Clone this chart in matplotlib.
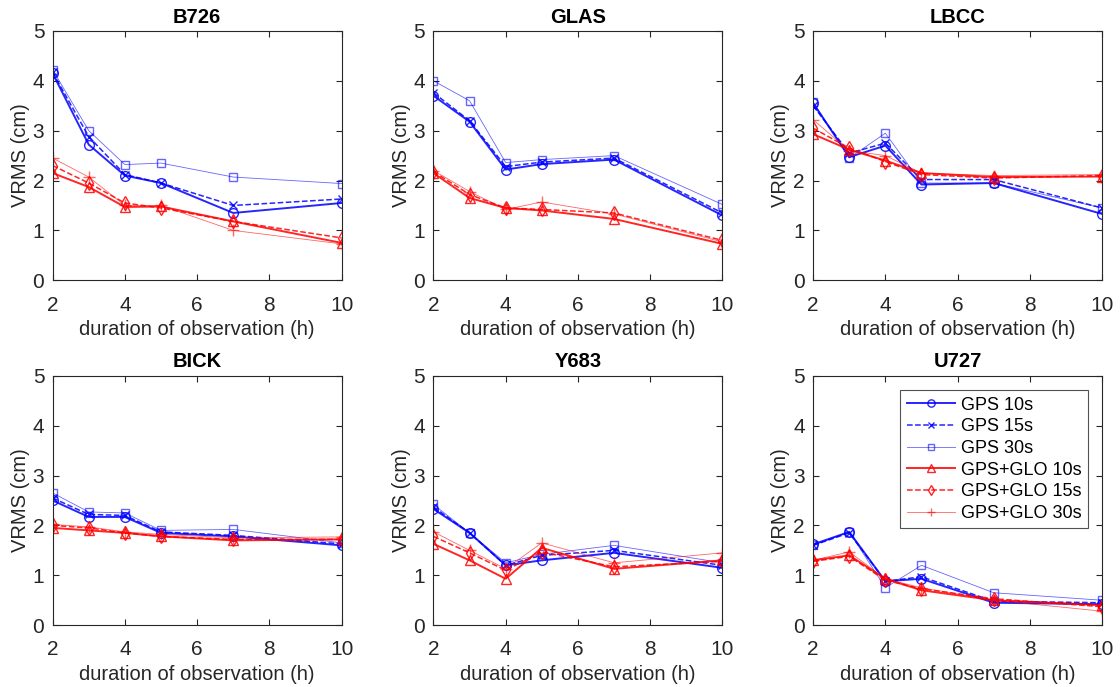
import numpy as np
import matplotlib
matplotlib.use('Agg')
from matplotlib import pyplot as plt
from matplotlib import rcParams

rcParams['font.family'] = ['Liberation Sans', 'DejaVu Sans']
rcParams['xtick.direction'] = 'in'
rcParams['ytick.direction'] = 'in'
rcParams['xtick.top'] = True
rcParams['ytick.right'] = True

#%% data
hours = [2, 3, 4, 5, 7, 10]
stations = ['B726', 'GLAS', 'LBCC', 'BICK', 'Y683', 'U727']
labels = ['GPS 10s', 'GPS 15s', 'GPS 30s', 'GPS+GLO 10s', 'GPS+GLO 15s', 'GPS+GLO 30s']

b726 = [[4.15, 2.72, 2.10, 1.95, 1.35, 1.55],
        [4.17, 2.88, 2.12, 1.95, 1.50, 1.63],
        [4.22, 3.00, 2.32, 2.35, 2.07, 1.94],
        [2.15, 1.87, 1.47, 1.48, 1.18, 0.75],
        [2.30, 1.95, 1.55, 1.45, 1.18, 0.85],
        [2.45, 2.07, 1.50, 1.50, 1.00, 0.73]]
glas = [[3.70, 3.18, 2.22, 2.33, 2.42, 1.30],
        [3.76, 3.20, 2.28, 2.37, 2.45, 1.35],
        [4.00, 3.60, 2.36, 2.42, 2.50, 1.52],
        [2.15, 1.65, 1.45, 1.40, 1.23, 0.73],
        [2.18, 1.72, 1.45, 1.42, 1.35, 0.80],
        [2.20, 1.78, 1.42, 1.57, 1.33, 0.77]]
lbcc = [[3.55, 2.47, 2.70, 1.92, 1.95, 1.33],
        [3.50, 2.55, 2.75, 2.02, 2.02, 1.45],
        [3.58, 2.45, 2.95, 1.95, 1.95, 1.45],
        [2.93, 2.62, 2.40, 2.15, 2.07, 2.08],
        [3.05, 2.65, 2.38, 2.12, 2.05, 2.10],
        [3.22, 2.60, 2.50, 2.15, 2.10, 2.12]]
bick = [[2.50, 2.17, 2.17, 1.85, 1.78, 1.60],
        [2.55, 2.22, 2.20, 1.87, 1.80, 1.63],
        [2.65, 2.27, 2.25, 1.90, 1.92, 1.65],
        [1.95, 1.90, 1.85, 1.78, 1.70, 1.72],
        [2.00, 1.95, 1.85, 1.78, 1.72, 1.72],
        [2.02, 1.97, 1.87, 1.82, 1.75, 1.77]]
y683 = [[2.33, 1.85, 1.20, 1.30, 1.45, 1.15],
        [2.37, 1.85, 1.20, 1.40, 1.50, 1.20],
        [2.42, 1.85, 1.25, 1.42, 1.60, 1.25],
        [1.63, 1.30, 0.93, 1.55, 1.13, 1.30],
        [1.78, 1.45, 1.10, 1.47, 1.17, 1.28],
        [1.87, 1.50, 1.13, 1.65, 1.25, 1.45]]
u727 = [[1.62, 1.87, 0.88, 0.93, 0.45, 0.42],
        [1.60, 1.85, 0.88, 0.97, 0.48, 0.45],
        [1.60, 1.87, 0.75, 1.20, 0.65, 0.50],
        [1.30, 1.40, 0.93, 0.70, 0.50, 0.40],
        [1.28, 1.38, 0.90, 0.73, 0.53, 0.37],
        [1.30, 1.47, 0.93, 0.75, 0.50, 0.28]]
allvals = [b726, glas, lbcc, bick, y683, u727]

#%% styles
styles = [dict(color='#0000ff', ls='-',  lw=1.4, marker='o', ms=7, alpha=0.85),
          dict(color='#0000ff', ls='--', lw=1.1, marker='x', ms=6, alpha=0.85),
          dict(color='#0000ff', ls='-',  lw=0.6, marker='s', ms=6, alpha=0.6),
          dict(color='#ff0000', ls='-',  lw=1.4, marker='^', ms=7, alpha=0.85),
          dict(color='#ff0000', ls='--', lw=1.1, marker='d', ms=7, alpha=0.85),
          dict(color='#ff0000', ls='-',  lw=0.6, marker='+', ms=8, alpha=0.6)]

fig = plt.figure(figsize=(11.2, 6.87), dpi=100)
lefts = [0.047, 0.387, 0.726]
bottoms = [0.592, 0.090]
w, h = 0.258, 0.363

for i, st in enumerate(stations):
    ax = fig.add_axes([lefts[i % 3], bottoms[i // 3], w, h])
    for j, lab in enumerate(labels):
        s = styles[j]
        ax.plot(hours, allvals[i][j], color=s['color'], linestyle=s['ls'], linewidth=s['lw'],
                marker=s['marker'], markersize=s['ms'], markerfacecolor='none',
                markeredgecolor=s['color'], markeredgewidth=1.0, alpha=s['alpha'], label=lab)
    ax.set_xlim(2, 10)
    ax.set_ylim(0, 5)
    ax.set_xticks([2, 4, 6, 8, 10])
    ax.set_yticks([0, 1, 2, 3, 4, 5])
    ax.tick_params(labelsize=15, colors='#262626', length=4, width=0.8)
    ax.tick_params(axis='x', pad=11)
    ax.tick_params(axis='y', pad=6)
    for sp in ax.spines.values():
        sp.set_color('#262626')
        sp.set_linewidth(0.8)
    ax.set_title(st, fontsize=14.5, fontweight='bold', pad=6)
    ax.set_xlabel('duration of observation (h)', fontsize=14.5, color='#262626', labelpad=4)
    ax.set_ylabel('VRMS (cm)', fontsize=14.5, color='#262626', labelpad=2)
    if i == 5:
        leg = ax.legend(loc='upper right', fontsize=13, frameon=True, fancybox=False,
                        edgecolor='#262626', handlelength=2.7, labelspacing=0.26,
                        borderaxespad=0.8, handletextpad=0.3, markerscale=0.75,
                        borderpad=0.35)
        leg.get_frame().set_linewidth(0.8)

fig.savefig('out.png', dpi=100)
